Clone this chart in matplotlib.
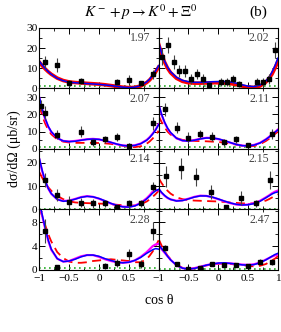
import matplotlib
matplotlib.use("Agg")
import matplotlib.pyplot as plt
from matplotlib.ticker import MultipleLocator

plt.rcParams['font.family'] = ['Liberation Serif', 'DejaVu Serif']
plt.rcParams['mathtext.fontset'] = 'stix'

# energies (GeV) for each panel, row by row
energies = ["1.97", "2.02", "2.07", "2.11", "2.14", "2.15", "2.28", "2.47"]

# data points: cos theta, dsigma/domega, error
pts_x = [
    [-0.9, -0.7, -0.5, -0.3, 0.3, 0.5, 0.7, 0.9],
    [-0.95, -0.85, -0.75, -0.65, -0.55, -0.45, -0.35, -0.25, -0.15, 0.05, 0.15, 0.25, 0.35, 0.65, 0.75, 0.85, 0.95],
    [-0.97, -0.9, -0.7, -0.3, -0.1, 0.1, 0.3, 0.5, 0.9],
    [-0.9, -0.7, -0.5, -0.3, -0.1, 0.1, 0.3, 0.5, 0.9],
    [-0.9, -0.7, -0.5, -0.3, -0.1, 0.1, 0.3, 0.5, 0.7, 0.9],
    [-0.875, -0.625, -0.375, -0.125, 0.125, 0.375, 0.625, 0.875],
    [-0.9, -0.7, 0.1, 0.3, 0.5, 0.7, 0.9],
    [-0.9, -0.7, -0.5, -0.3, -0.1, 0.1, 0.3, 0.5, 0.7, 0.9],
]
pts_y = [
    [13.2, 11.4, 2.6, 3.5, 3.2, 4.4, 2.6, 6.9],
    [15.8, 21.7, 13.2, 8.8, 8.8, 4.7, 7.3, 4.7, 1.8, 3.2, 3.2, 4.7, 2.0, 3.2, 3.2, 4.7, 19.0],
    [25.0, 20.9, 8.2, 10.0, 3.9, 5.6, 6.8, 1.6, 14.7],
    [22.8, 12.3, 6.5, 8.6, 7.0, 3.9, 5.6, 2.1, 8.8],
    [12.5, 6.3, 3.2, 2.9, 2.6, 2.6, 1.1, 2.6, 2.6, 9.7],
    [14.3, 17.7, 14.0, 7.3, 1.0, 5.1, 2.6, 12.7],
    [6.5, 0.55, 0.7, 1.2, 2.6, 1.0, 6.5],
    [3.7, 1.0, 0.2, 0.3, 1.0, 0.8, 0.8, 0.7, 1.4, 1.3],
]
pts_err = [
    [3.0, 3.5, 1.5, 1.5, 1.5, 2.0, 1.0, 2.0],
    [4.0, 4.0, 3.5, 3.0, 3.0, 2.5, 2.5, 2.5, 1.5, 2.0, 2.0, 2.0, 1.5, 2.0, 2.0, 2.5, 4.0],
    [3.0, 4.0, 2.5, 3.0, 2.0, 2.0, 2.5, 1.0, 4.0],
    [4.0, 3.0, 3.0, 2.5, 2.5, 2.0, 2.0, 1.5, 3.0],
    [3.0, 2.5, 2.5, 2.0, 2.0, 1.5, 1.0, 1.5, 1.5, 2.0],
    [4.5, 4.5, 4.0, 3.0, 1.0, 3.0, 1.5, 4.0],
    [2.0, 0.3, 0.5, 0.7, 1.0, 0.6, 1.5],
    [0.5, 0.3, 0.2, 0.3, 0.3, 0.3, 0.3, 0.3, 0.4, 0.4],
]

# model curves, read on this grid
cos_grid = [-1, -0.95, -0.9, -0.85, -0.8, -0.7, -0.6, -0.5, -0.4, -0.3, -0.2, -0.1, 0,
            0.1, 0.2, 0.3, 0.4, 0.5, 0.6, 0.7, 0.8, 0.85, 0.9, 0.95, 1]

blue = [
    [13.5, 11.5, 9.8, 8.3, 7.0, 5.0, 3.8, 3.1, 2.8, 2.6, 2.4, 2.2, 2.0, 1.7, 1.4, 1.0, 0.6, 0.4, 0.6, 1.4, 3.2, 4.6, 6.5, 8.7, 11.3],
    [23, 17.5, 13.5, 10.5, 8.3, 5.5, 4.0, 3.3, 3.0, 3.0, 3.1, 3.3, 3.4, 3.4, 3.2, 2.6, 1.8, 1.1, 0.9, 1.6, 3.8, 5.5, 8.0, 11.2, 15],
    [30, 23, 17.5, 13, 10, 6.3, 4.6, 4.2, 4.4, 5.0, 5.5, 5.7, 5.5, 4.8, 3.8, 2.8, 2.0, 1.7, 2.0, 3.0, 5.0, 6.6, 8.6, 11, 14],
    [26, 20, 15.5, 12, 9.5, 6.2, 4.8, 4.5, 5.0, 5.8, 6.3, 6.3, 5.8, 4.8, 3.7, 2.6, 1.9, 1.7, 2.2, 3.4, 5.5, 6.8, 8.2, 9.6, 11],
    [22, 16.5, 12.2, 9, 6.8, 4.3, 3.5, 3.7, 4.4, 5.2, 5.6, 5.4, 4.7, 3.7, 2.6, 1.7, 1.1, 1.0, 1.5, 2.6, 4.5, 5.7, 7.0, 8.0, 8.6],
    [9, 7.3, 6.0, 5.0, 4.3, 3.6, 3.8, 4.5, 5.3, 5.8, 5.8, 5.3, 4.5, 3.6, 2.8, 2.2, 1.9, 2.0, 2.5, 3.5, 5.0, 5.8, 6.6, 7.2, 7.5],
    [11.5, 9.2, 7.0, 5.0, 3.5, 1.9, 1.4, 1.5, 1.8, 2.2, 2.5, 2.5, 2.3, 1.9, 1.6, 1.3, 1.2, 1.3, 1.6, 2.1, 2.8, 3.1, 3.4, 3.6, 3.5],
    [4.3, 3.6, 3.0, 2.3, 1.7, 0.8, 0.3, 0.15, 0.25, 0.5, 0.8, 1.0, 1.15, 1.2, 1.1, 1.0, 0.85, 0.8, 0.9, 1.2, 1.7, 2.0, 2.3, 2.6, 2.8],
]
magenta = [
    None,
    None,
    [29.5, 22.5, 17, 12.8, 9.8, 6.2, 4.6, 4.3, 4.6, 5.1, 5.6, 5.8, 5.5, 4.7, 3.7, 2.7, 2.0, 1.8, 2.1, 3.1, 5.2, 6.8, 8.8, 11.2, 14.3],
    [25.5, 19.7, 15.2, 11.8, 9.3, 6.1, 4.8, 4.6, 5.1, 5.9, 6.4, 6.3, 5.7, 4.7, 3.6, 2.6, 1.9, 1.8, 2.3, 3.5, 5.6, 6.9, 8.3, 9.7, 11.2],
    [21.5, 16.2, 12, 8.9, 6.7, 4.3, 3.6, 3.8, 4.5, 5.3, 5.7, 5.4, 4.6, 3.6, 2.5, 1.7, 1.2, 1.1, 1.6, 2.8, 4.8, 6.1, 7.6, 8.4, 8.1],
    [8.7, 7.1, 5.9, 4.9, 4.3, 3.7, 3.9, 4.6, 5.4, 5.9, 5.8, 5.2, 4.4, 3.5, 2.7, 2.1, 1.9, 2.1, 2.7, 3.7, 5.2, 6.0, 6.9, 7.6, 8.1],
    [11.3, 9.0, 6.9, 4.9, 3.4, 1.9, 1.4, 1.5, 1.9, 2.3, 2.5, 2.5, 2.2, 1.8, 1.5, 1.3, 1.2, 1.3, 1.6, 2.2, 3.0, 3.5, 4.0, 4.3, 4.4],
    [4.2, 3.5, 2.9, 2.3, 1.7, 0.8, 0.3, 0.15, 0.3, 0.55, 0.8, 1.0, 1.1, 1.15, 1.1, 1.0, 0.9, 0.85, 0.95, 1.25, 1.75, 2.0, 2.25, 2.45, 2.6],
]
red = [
    [13.0, 11.2, 9.6, 8.2, 7.0, 5.1, 3.9, 3.2, 2.9, 2.7, 2.5, 2.3, 2.1, 1.8, 1.4, 1.0, 0.6, 0.4, 0.5, 1.2, 2.9, 4.2, 6.0, 8.2, 10.6],
    [22, 17, 13, 10, 7.8, 5.0, 3.5, 2.8, 2.6, 2.6, 2.7, 2.8, 2.8, 2.7, 2.4, 1.9, 1.2, 0.6, 0.5, 1.2, 3.2, 4.8, 7.0, 10, 13.5],
    [25, 19, 14.5, 11, 8.5, 5.5, 4.2, 3.7, 3.5, 3.5, 3.5, 3.5, 3.4, 3.2, 2.9, 2.4, 1.8, 1.2, 1.0, 1.5, 3.0, 4.3, 6.0, 8.0, 10.5],
    [19, 15.5, 12.5, 10, 8.3, 6.2, 5.2, 4.8, 4.6, 4.5, 4.4, 4.2, 4.0, 3.6, 3.1, 2.5, 1.9, 1.5, 1.7, 2.7, 4.6, 5.8, 7.2, 8.6, 10],
    [16, 13.5, 11.3, 9.5, 8.0, 5.8, 4.4, 3.5, 3.0, 2.8, 2.7, 2.6, 2.5, 2.4, 2.2, 2.0, 1.8, 1.6, 1.7, 2.2, 3.4, 4.3, 5.4, 6.6, 8.0],
    [13.5, 11.3, 9.5, 8.0, 6.8, 5.2, 4.4, 4.0, 3.8, 3.7, 3.6, 3.5, 3.4, 3.2, 3.0, 2.8, 2.6, 2.5, 2.6, 3.0, 3.8, 4.4, 5.1, 5.8, 6.5],
    [10.5, 9.0, 7.5, 6.0, 4.8, 3.0, 2.0, 1.4, 1.2, 1.2, 1.3, 1.5, 1.6, 1.7, 1.8, 1.7, 1.6, 1.5, 1.3, 1.3, 1.8, 2.4, 3.1, 4.0, 5.0],
    [5.2, 4.1, 3.2, 2.4, 1.8, 0.9, 0.35, 0.15, 0.25, 0.5, 0.75, 0.95, 1.05, 1.05, 1.0, 0.9, 0.8, 0.7, 0.6, 0.7, 1.0, 1.3, 1.6, 1.9, 2.3],
]
green_level = [1.0, 1.0, 1.0, 1.0, 0.3, 0.3, 0.3, 0.1]

row_ylim = [30, 35, 26, 10.2]
row_ticks = [[0, 10, 20, 30], [0, 10, 20, 30], [0, 10, 20], [0, 4, 8]]
row_minor = [5, 5, 5, 2]

fig, axes = plt.subplots(4, 2, figsize=(2.81, 3.32), dpi=100)
fig.subplots_adjust(left=0.14, right=0.989, top=0.916, bottom=0.187, hspace=0, wspace=0)

for i in range(8):
    r, c = divmod(i, 2)
    ax = axes[r][c]
    ax.plot(cos_grid, [green_level[i]] * len(cos_grid), color='#22aa22', lw=1.2, ls=(0, (1, 2)))
    if r == 0:
        ax.plot(cos_grid, red[i], color='red', lw=2.6)
    else:
        ax.plot(cos_grid, red[i], color='red', lw=1.3, ls=(0, (5, 3)))
        ax.plot(cos_grid, magenta[i], color='magenta', lw=1.6)
    ax.plot(cos_grid, blue[i], color='blue', lw=1.1)
    ax.errorbar(pts_x[i], pts_y[i], yerr=pts_err[i], fmt='s', color='black', ms=3.0,
                ecolor='#444444', elinewidth=0.8, capsize=0, zorder=5)
    ax.set_xlim(-1, 1)
    ax.set_ylim(0, row_ylim[r])
    ax.set_yticks(row_ticks[r])
    ax.yaxis.set_minor_locator(MultipleLocator(row_minor[r]))
    ax.set_xticks([-1, -0.5, 0, 0.5, 1])
    ax.xaxis.set_minor_locator(MultipleLocator(0.25))
    ax.tick_params(which='both', direction='in', top=True, right=True, labelsize=8.2)
    ax.tick_params(axis='y', pad=1.5)
    ax.tick_params(axis='x', pad=3)
    ax.tick_params(which='major', length=4, width=0.7)
    ax.tick_params(which='minor', length=2, width=0.6)
    for s in ax.spines.values():
        s.set_linewidth(0.8)
    ax.text(0.93, 0.83, energies[i], transform=ax.transAxes, ha='right', va='center',
            fontsize=8.5, color='#444444')
    if c == 1:
        ax.set_yticklabels([])
    if r < 3:
        ax.set_xticklabels([])
    else:
        if c == 0:
            ax.set_xticklabels(['\u22121', '\u22120.5', '0', '0.5', ''])
        else:
            ax.set_xticklabels(['\u22121', '\u22120.5', '0', '0.5', '1'])

fig.text(0.5, 0.962, r'$K^-+p\rightarrow K^0+\Xi^0$', ha='center', va='center', fontsize=11)
fig.text(0.918, 0.962, '(b)', ha='center', va='center', fontsize=11)
fig.text(0.05, 0.551, 'd\u03c3/d\u03a9 (\u03bcb/sr)', rotation=90, ha='center', va='center', fontsize=10)
fig.text(0.565, 0.096, 'cos \u03b8', ha='center', va='center', fontsize=10)

fig.savefig('out.png', dpi=100)
